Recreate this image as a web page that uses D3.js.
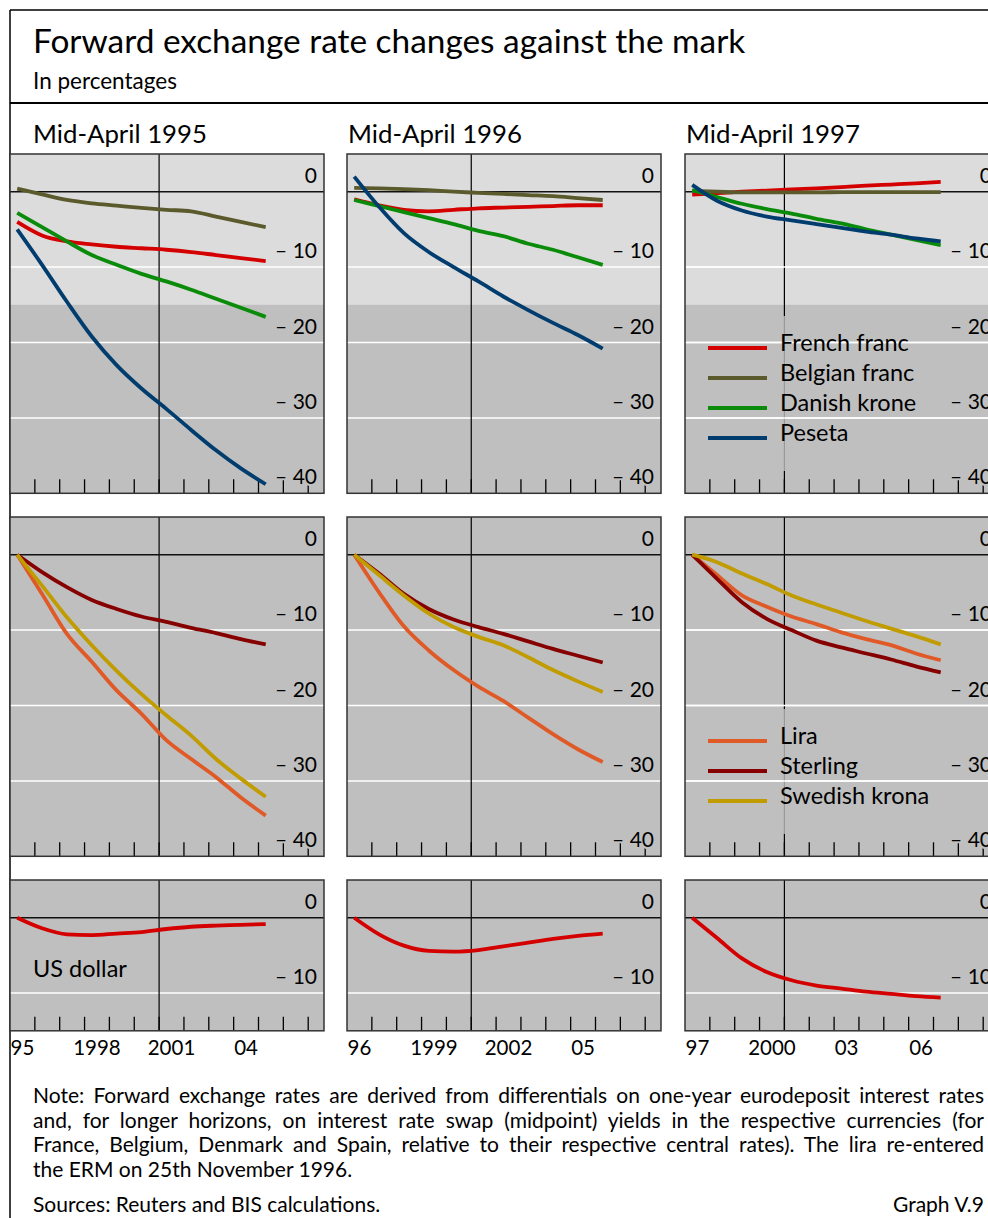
<!DOCTYPE html>
<html>
<head>
<meta charset="utf-8">
<script src="https://cdn.jsdelivr.net/npm/d3@7"></script>
<style>
  body { margin: 0; background: #fff; }
  svg { display: block; font-family: Lato, "Noto Sans", sans-serif; }
</style>
</head>
<body>
<div id="chart"></div>
<script>
const width = 988
const height = 1218

// columns = forecast starting points, x = horizon in years (0 = spot)
const columnTitles = ["Mid-April 1995", "Mid-April 1996", "Mid-April 1997"]
const startYears = [1995, 1996, 1997]
const horizons = [0, 1, 2, 3, 4, 5, 6, 7, 8, 9, 10]
const yearLabels = [["95", "1998", "2001", "04"], ["96", "1999", "2002", "05"], ["97", "2000", "03", "06"]]
const labelYears = [[1995, 1998, 2001, 2004], [1996, 1999, 2002, 2005], [1997, 2000, 2003, 2006]]

// values per column: [1995, 1996, 1997]
const frenchFranc = [
  [-4.0, -5.8, -6.6, -7.0, -7.3, -7.5, -7.7, -8.0, -8.4, -8.8, -9.2],
  [-1.0, -1.8, -2.4, -2.6, -2.4, -2.2, -2.1, -2.0, -1.9, -1.8, -1.8],
  [-0.4, -0.2, 0.0, 0.15, 0.3, 0.45, 0.6, 0.8, 0.95, 1.1, 1.3]
]
const belgianFranc = [
  [0.4, -0.35, -1.1, -1.55, -1.85, -2.15, -2.4, -2.6, -3.3, -4.0, -4.7],
  [0.5, 0.45, 0.35, 0.2, 0.0, -0.15, -0.3, -0.45, -0.6, -0.85, -1.1],
  [0.1, 0.0, -0.1, -0.1, -0.1, -0.1, -0.05, -0.05, -0.05, -0.05, -0.05]
]
const danishKrone = [
  [-2.8, -4.7, -6.6, -8.4, -9.7, -10.9, -11.9, -13.0, -14.2, -15.4, -16.6],
  [-1.1, -1.9, -2.7, -3.5, -4.3, -5.2, -5.9, -6.9, -7.7, -8.7, -9.7],
  [0.2, -0.7, -1.6, -2.3, -2.9, -3.6, -4.2, -5.0, -5.7, -6.4, -7.1]
]
const peseta = [
  [-5.0, -9.7, -14.6, -19.2, -23.0, -26.1, -28.8, -31.6, -34.3, -36.7, -38.8],
  [2.0, -2.0, -5.5, -8.0, -10.0, -11.9, -13.9, -15.7, -17.4, -19.0, -20.8],
  [0.9, -1.2, -2.5, -3.3, -3.8, -4.3, -4.8, -5.3, -5.7, -6.2, -6.6]
]
const lira = [
  [0, -5.2, -10.5, -14.2, -18.0, -21.1, -24.6, -27.1, -29.5, -32.2, -34.6],
  [0, -5.0, -9.5, -12.7, -15.3, -17.5, -19.4, -21.6, -23.8, -25.8, -27.5],
  [0, -2.7, -5.4, -6.9, -8.2, -9.2, -10.3, -11.2, -12.0, -13.1, -14.0]
]
const sterling = [
  [0, -2.3, -4.3, -6.0, -7.2, -8.2, -8.9, -9.7, -10.4, -11.2, -11.9],
  [0, -2.5, -5.2, -7.2, -8.6, -9.6, -10.5, -11.5, -12.5, -13.4, -14.3],
  [0, -3.2, -6.3, -8.5, -10.0, -11.4, -12.3, -13.1, -13.9, -14.8, -15.6]
]
const swedishKrona = [
  [0, -4.1, -8.3, -12.0, -15.4, -18.5, -21.3, -24.0, -27.1, -29.7, -32.1],
  [0, -2.7, -5.4, -7.8, -9.6, -10.9, -12.0, -13.6, -15.3, -16.8, -18.2],
  [0, -1.0, -2.5, -3.9, -5.4, -6.6, -7.7, -8.8, -9.8, -10.8, -11.9]
]
const usDollar = [
  [0, -1.4, -2.2, -2.3, -2.1, -1.9, -1.5, -1.2, -1.05, -0.95, -0.85],
  [0, -2.2, -3.7, -4.4, -4.5, -4.3, -3.8, -3.3, -2.8, -2.4, -2.1],
  [0, -2.7, -5.4, -7.2, -8.3, -9.0, -9.4, -9.8, -10.1, -10.4, -10.6]
]

const noteLines = [
  "Note: Forward exchange rates are derived from differentials on one-year eurodeposit interest rates",
  "and, for longer horizons, on interest rate swap (midpoint) yields in the respective currencies (for",
  "France, Belgium, Denmark and Spain, relative to their respective central rates). The lira re-entered",
  "the ERM on 25th November 1996."
]

const light = "#dcdcdc", dark = "#bfbfbf"

const rows = [
  { top: 154, domain: [-40, 5], labels: [0, -10, -20, -30, -40], grid: [-10, -20, -30], shade: -15,
    series: [
      { name: "French franc", values: frenchFranc, color: "#d40000" },
      { name: "Belgian franc", values: belgianFranc, color: "#5a5a2c" },
      { name: "Danish krone", values: danishKrone, color: "#0a8c0a" },
      { name: "Peseta", values: peseta, color: "#003d6e" }
    ], legendTop: 194 },
  { top: 517, domain: [-40, 5], labels: [0, -10, -20, -30, -40], grid: [-10, -20, -30], shade: null,
    series: [
      { name: "Lira", values: lira, color: "#e05a28" },
      { name: "Sterling", values: sterling, color: "#860000" },
      { name: "Swedish krona", values: swedishKrona, color: "#c09c00" }
    ], legendTop: 224 },
  { top: 880, domain: [-15, 5], labels: [0, -10], grid: [-10], shade: null,
    series: [
      { name: "US dollar", values: usDollar, color: "#d40000" }
    ], legendTop: null }
]

const panelW = 314
const colX = [10, 347, 685]
const titleX = [33, 348, 686]
const pxPerUnit = 7.54
const pxPerYear = 24.85
const markerYear = 2001

const svg = d3.select("#chart")
              .append("svg")
              .attr("width", width)
              .attr("height", height)

// frame
svg.append("line").attr("x1", 10).attr("x2", width).attr("y1", 10).attr("y2", 10)
   .attr("stroke", "#000").attr("stroke-width", 1.5)
svg.append("line").attr("x1", 10).attr("x2", 10).attr("y1", 10).attr("y2", height)
   .attr("stroke", "#000").attr("stroke-width", 1.5)
svg.append("line").attr("x1", 10).attr("x2", width).attr("y1", 103).attr("y2", 103)
   .attr("stroke", "#000").attr("stroke-width", 2)

svg.append("text").attr("x", 33).attr("y", 53).attr("font-size", 33.4)
   .text("Forward exchange rate changes against the mark")
svg.append("text").attr("x", 33).attr("y", 89).attr("font-size", 22.5)
   .text("In percentages")

columnTitles.forEach((t, c) => {
  svg.append("text").attr("x", titleX[c]).attr("y", 143).attr("font-size", 25.8).text(t)
})

rows.forEach((row, r) => {
  const h = (row.domain[1] - row.domain[0]) * pxPerUnit
  const y = d3.scaleLinear().domain(row.domain).range([h, 0])

  startYears.forEach((start, c) => {
    const x = d3.scaleLinear().domain([start, start + panelW / pxPerYear]).range([0, panelW])
    const g = svg.append("g").attr("transform", `translate(${colX[c]},${row.top})`)

    g.append("rect").attr("width", panelW).attr("height", h).attr("fill", dark)
    if (row.shade !== null) {
      g.append("rect").attr("width", panelW).attr("height", y(row.shade)).attr("fill", light)
    }

    g.selectAll(".grid").data(row.grid).enter().append("line")
     .attr("x1", 0).attr("x2", panelW)
     .attr("y1", d => y(d)).attr("y2", d => y(d))
     .attr("stroke", "#fff").attr("stroke-width", 1.5)

    g.append("line").attr("x1", x(markerYear)).attr("x2", x(markerYear))
     .attr("y1", 0).attr("y2", h).attr("stroke", "#000").attr("stroke-width", 1.2)

    g.append("line").attr("x1", 0).attr("x2", panelW).attr("y1", y(0)).attr("y2", y(0))
     .attr("stroke", "#111").attr("stroke-width", 1.5)

    const ticks = d3.range(start + 1, start + 13).filter(v => x(v) < panelW)
    g.selectAll(".tick").data(ticks).enter().append("line")
     .attr("x1", d => x(d)).attr("x2", d => x(d))
     .attr("y1", h).attr("y2", h - 14)
     .attr("stroke", "#000").attr("stroke-width", 1.3)

    // legend area knocks out the marker line
    if (c === 2 && row.legendTop !== null) {
      g.append("rect").attr("x", x(markerYear) - 2).attr("width", 4)
       .attr("y", row.legendTop - 32).attr("height", row.series.length * 30 + 35)
       .attr("fill", dark).attr("opacity", 0.8)
      g.selectAll(".grid2").data(row.grid).enter().append("line")
       .attr("x1", 0).attr("x2", panelW)
       .attr("y1", d => y(d)).attr("y2", d => y(d))
       .attr("stroke", "#fff").attr("stroke-width", 1.5)
    }

    const line = d3.line()
                   .x((d, i) => x(start + 0.29 + horizons[i]))
                   .y(d => y(d))
                   .curve(d3.curveMonotoneX)

    row.series.forEach(s => {
      g.append("path").datum(s.values[c])
       .attr("d", line)
       .attr("fill", "none")
       .attr("stroke", s.color)
       .attr("stroke-width", 3.8)
    })

    g.selectAll(".ylab").data(row.labels).enter().append("text")
     .attr("x", panelW - 7).attr("y", d => y(d) - 9)
     .attr("text-anchor", "end").attr("font-size", 21)
     .attr("stroke", d => (row.shade !== null && d > row.shade) ? light : dark)
     .attr("stroke-width", 4).attr("paint-order", "stroke")
     .text(d => d === 0 ? "0" : "\u2013 " + Math.abs(d))

    g.append("rect").attr("width", panelW).attr("height", h)
     .attr("fill", "none").attr("stroke", "#333").attr("stroke-width", 1.5)

    if (c === 2 && row.legendTop !== null) {
      row.series.forEach((s, i) => {
        const ly = row.legendTop + i * 30
        g.append("line").attr("x1", 23).attr("x2", 82).attr("y1", ly).attr("y2", ly)
         .attr("stroke", s.color).attr("stroke-width", 4)
        g.append("text").attr("x", 95).attr("y", ly + 3).attr("font-size", 23.5).text(s.name)
      })
    }

    if (r === 2) {
      if (c === 0) {
        g.append("text").attr("x", 23).attr("y", 97).attr("font-size", 23.5).text("US dollar")
      }
      g.selectAll(".xlab").data(labelYears[c]).enter().append("text")
       .attr("x", d => x(d + 0.5)).attr("y", h + 24)
       .attr("text-anchor", "middle").attr("font-size", 20.5)
       .text((d, i) => yearLabels[c][i])
    }
  })
})

// note, justified to the right margin
const noteLeft = 33, noteRight = 984
noteLines.forEach((t, i) => {
  const txt = svg.append("text").attr("x", noteLeft).attr("y", 1103 + i * 24.6)
                 .attr("font-size", 21).text(t)
  if (i < noteLines.length - 1) {
    const natural = txt.node().getComputedTextLength()
    const gaps = t.split(" ").length - 1
    txt.attr("word-spacing", (noteRight - noteLeft - natural) / gaps)
  }
})
svg.append("text").attr("x", noteLeft).attr("y", 1212).attr("font-size", 21)
   .text("Sources: Reuters and BIS calculations.")
svg.append("text").attr("x", noteRight).attr("y", 1212).attr("font-size", 21)
   .attr("text-anchor", "end").text("Graph V.9")
</script>
</body>
</html>
